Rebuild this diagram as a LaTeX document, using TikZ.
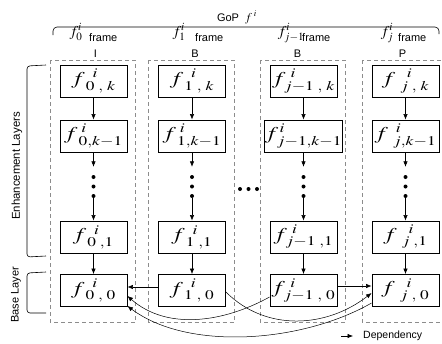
\documentclass[tikz,border=0pt]{standalone}
\usepackage{mathptmx}
\usepackage[no-math]{fontspec}
\setmainfont{Liberation Sans}
\usepackage{graphicx}
\usetikzlibrary{arrows.meta,calc}
\definecolor{dashgray}{HTML}{8C8C8C}
\tikzset{
  layerbox/.style={draw=black, line width=0.9pt, minimum width=67pt, minimum height=32pt, inner sep=0pt, font=\fontsize{18}{18}\selectfont},
  gopcol/.style={draw=dashgray, line width=0.8pt, dash pattern=on 4pt off 3pt},
  dep/.style={-{Latex[length=5.5pt,width=4.5pt]}, line width=0.6pt},
  lab/.style={inner sep=0pt, font=\fontsize{11}{11}\selectfont},
  hdr/.style={inner sep=0pt, font=\fontsize{15}{15}\selectfont},
  dotnode/.style={inner sep=0pt, minimum width=6pt, minimum height=31pt}
}
\newcommand{\wide}[1]{\scalebox{1.3}[1]{#1}}

\begin{document}
\begin{tikzpicture}[x=1pt, y=-1pt]
  \useasboundingbox (0,0) rectangle (442,343);
  \clip (0,0) rectangle (442,343);

  % GoP title and brace
  \node[lab, anchor=base] (gop) at (237,21) {GoP\hspace{6pt}{\fontsize{12}{12}\selectfont$f^{\;i}$}};
  \draw[line width=0.6pt, rounded corners=4pt] (53,35) -- (53,27) -- (439,27) -- (439,34);

  % frame headers
  \foreach \c/\x/\s/\fx/\lx/\t in {0/76/0/89/95.5/I, 1/179/1/195/195/B, m/291/{j-1}/302/297.5/B, j/387/j/398/402.5/P}{
    \node[hdr, anchor=base] (h\c) at (\x,36) {$f^{i}_{\s}$};
    \node[lab, anchor=base west] (fr\c) at (\fx,41.5) {frame};
    \node[lab, anchor=base] (ty\c) at (\lx,57) {\t};
  }

  % one dashed column per frame, layers from k down to 0
  \foreach \c/\x/\s/\g in {0/93.5/0/3pt, 1/192/1/3pt, m/303.5/j-1/1pt, j/405.5/j/6pt}{
    \draw[gopcol] (\x-43.5,60) rectangle (\x+42,322);
    \node[layerbox] (t\c) at (\x,81) {\wide{$f^{\hspace{\g}\hspace{3pt}i}_{\hspace{\g}\s\;,\;k}$}};
    \node[layerbox] (s\c) at (\x,136) {\wide{$f^{\hspace{\g}i}_{\hspace{\g}\s,k-1}$}};
    \node[dotnode] (d\c) at (\x,182.5) {};
    \foreach \dy in {-5.5,4,13.5}
      \fill ($(d\c)+(0,\dy)$) circle (2pt);
    \node[layerbox] (o\c) at (\x,237) {\wide{$f^{\hspace{\g}\hspace{3pt}i}_{\hspace{\g}\s\;,1}$}};
    \node[layerbox] (b\c) at (\x,290.5) {\wide{$f^{\hspace{\g}\hspace{3pt}i}_{\hspace{\g}\s\;,\;0}$}};
    \draw[dep] (t\c) -- (s\c);
    \draw[dep] (s\c) -- (d\c);
    \draw[dep] (d\c) -- (o\c);
    \draw[dep] (o\c) -- (b\c);
  }

  % frames left out between 1 and j-1
  \node[inner sep=0pt] (hd) at (248.5,189) {};
  \foreach \dx in {-8.5,0,8.5}
    \fill ($(hd)+(\dx,0)$) circle (2pt);

  % layer brackets
  \draw[line width=0.6pt, rounded corners=3pt] (46,65) -- (27,66) -- (27,257) -- (46,256);
  \draw[line width=0.6pt, rounded corners=3pt] (46,272) -- (27,273) -- (27,313) -- (46,313);
  \node[lab, rotate=90, font=\fontsize{11.4}{11.4}\selectfont] (enh) at (17,166) {Enhancement Layers};
  \node[lab, rotate=90] (base) at (16,295) {Base Layer};

  % base layer dependencies
  \draw[dep] ([yshift=3.5pt]b1.west) -- ([yshift=3.5pt]b0.east);
  \draw[dep] ([yshift=4.5pt]bm.east) -- ([yshift=4.5pt]bj.west);
  \draw[dep, line width=0.5pt] ([yshift=-1.5pt]b1.east) .. controls +(40,40) and +(-45,35) .. ([yshift=-2.5pt]bj.west);
  \draw[dep, line width=0.5pt] ([yshift=-6.5pt]bm.west) .. controls +(-45,25) and +(40,35) .. ([yshift=-5.5pt]b0.east);
  \draw[dep, line width=0.5pt] ([yshift=-12.5pt]bj.west) .. controls +(-70,40) and +(60,45) .. ([yshift=-15.5pt]b0.east);

  % legend
  \node[lab, anchor=west, font=\fontsize{10.5}{10.5}\selectfont] (deplab) at (363,336) {Dependency};
  \coordinate (depstart) at (341,336);
  \draw[dep] (depstart) -- ($(deplab.west)+(-10,0)$);
\end{tikzpicture}
\end{document}
